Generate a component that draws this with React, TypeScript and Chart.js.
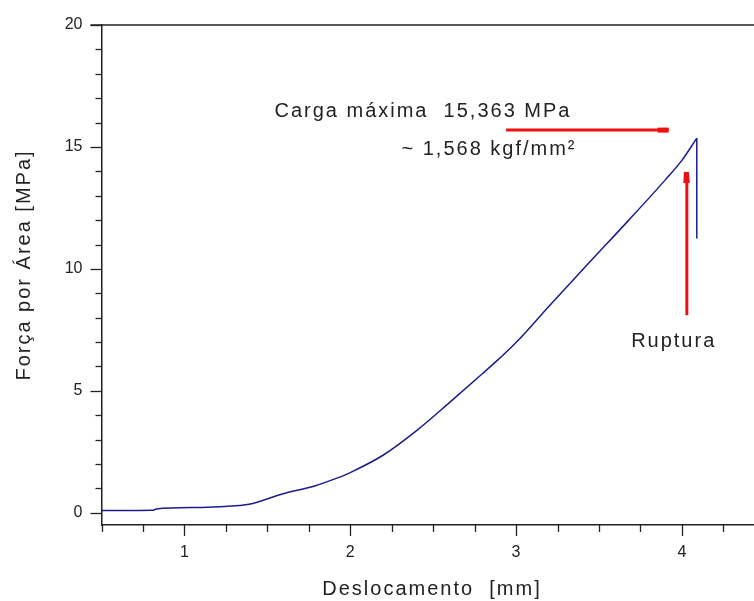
import { useEffect, useRef } from "react";
import { Chart, registerables } from "chart.js";

Chart.register(...registerables);

// Curve: Deslocamento [mm] vs Força por Área [MPa]
const displacement = [0.5, 0.81, 0.83, 1.1, 1.33, 1.39, 1.59, 1.79, 1.915, 2.0, 2.2, 2.4, 2.6, 2.8, 2.9, 3.0, 3.2, 3.44, 3.68, 3.9, 4.0, 4.09];
const stress = [0.09, 0.1, 0.16, 0.22, 0.3, 0.35, 0.77, 1.11, 1.41, 1.65, 2.37, 3.37, 4.53, 5.72, 6.33, 6.98, 8.48, 10.25, 12.0, 13.65, 14.45, 15.36];
// Rupture drop
const dropX = [4.09, 4.09];
const dropY = [15.36, 11.25];
// Red annotation markers
const maxMarkerX = [2.94, 3.92];
const maxMarkerY = [15.69, 15.69];
const ruptureMarkerX = [4.03, 4.03];
const ruptureMarkerY = [8.1, 13.97];

const xMajorTicks = [1, 2, 3, 4];
const yMajorTicks = [0, 5, 10, 15, 20];
const xMinorTicks = [0.5, 0.75, 1, 1.25, 1.5, 1.75, 2, 2.25, 2.5, 2.75, 3, 3.25, 3.5, 3.75, 4, 4.25];
const yMinorTicks = [0, 1, 2, 3, 4, 5, 6, 7, 8, 9, 10, 11, 12, 13, 14, 15, 16, 17, 18, 19, 20];

const textMaxLoad = "Carga máxima  15,363 MPa";
const textKgf = "~ 1,568 kgf/mm²";
const textRupture = "Ruptura";
const xTitle = "Deslocamento  [mm]";
const yTitle = "Força por Área [MPa]";

const AXIS = "#222222";
const BLUE = "#1c1c8c";
const RED = "#ee1010";
const FONT = "'Liberation Sans', Arial, sans-serif";

const pts = (xs: number[], ys: number[]) => xs.map((x, i) => ({ x, y: ys[i] }));

const decor = {
  id: "decor",
  afterDraw(chart: any) {
    const { ctx, chartArea, scales } = chart;
    const x = scales.x;
    const y = scales.y;
    ctx.save();
    ctx.strokeStyle = AXIS;
    ctx.lineWidth = 1.5;
    ctx.beginPath();
    ctx.moveTo(chartArea.left - 11, chartArea.top);
    ctx.lineTo(chartArea.right, chartArea.top);
    ctx.stroke();
    ctx.lineWidth = 1.3;
    for (const v of yMinorTicks) {
      const py = Math.round(y.getPixelForValue(v)) + 0.5;
      const len = v % 5 === 0 ? 11 : 6;
      ctx.beginPath();
      ctx.moveTo(chartArea.left - len, py);
      ctx.lineTo(chartArea.left, py);
      ctx.stroke();
    }
    for (const v of xMinorTicks) {
      const px = Math.round(x.getPixelForValue(v)) + 0.5;
      const len = Number.isInteger(v) ? 11 : 7;
      ctx.beginPath();
      ctx.moveTo(px, chartArea.bottom);
      ctx.lineTo(px, chartArea.bottom + len);
      ctx.stroke();
    }
    // arrow heads of red markers
    ctx.fillStyle = RED;
    const hx = x.getPixelForValue(maxMarkerX[1]);
    const hy = y.getPixelForValue(maxMarkerY[1]);
    ctx.fillRect(hx - 11, hy - 2.5, 11, 5);
    const vx = x.getPixelForValue(ruptureMarkerX[1]);
    const vy = y.getPixelForValue(ruptureMarkerY[1]);
    ctx.beginPath();
    ctx.moveTo(vx - 3.5, vy + 11);
    ctx.lineTo(vx - 3, vy);
    ctx.lineTo(vx + 2, vy);
    ctx.lineTo(vx + 3, vy + 11);
    ctx.closePath();
    ctx.fill();

    // texts
    ctx.fillStyle = AXIS;
    ctx.font = `20px ${FONT}`;
    (ctx as any).letterSpacing = "2px";
    ctx.textBaseline = "alphabetic";
    ctx.textAlign = "left";
    ctx.fillText(textMaxLoad, x.getPixelForValue(1.543), y.getPixelForValue(16.22));
    ctx.fillText(textKgf, x.getPixelForValue(2.309), y.getPixelForValue(14.67));
    ctx.fillText(textRupture, x.getPixelForValue(3.694), y.getPixelForValue(6.8));
    ctx.textAlign = "center";
    ctx.fillText(xTitle, 432, 595);
    ctx.save();
    ctx.translate(30, 265);
    ctx.rotate(-Math.PI / 2);
    ctx.fillText(yTitle, 0, 0);
    ctx.restore();
    ctx.restore();
  },
};

export default function App() {
  const ref = useRef<HTMLCanvasElement | null>(null);
  useEffect(() => {
    if (!ref.current) return;
    const chart = new Chart(ref.current, {
      type: "line",
      data: {
        datasets: [
          { data: pts(displacement, stress), borderColor: BLUE, borderWidth: 1.5, pointRadius: 0, cubicInterpolationMode: "monotone" },
          { data: pts(dropX, dropY), borderColor: BLUE, borderWidth: 1.5, pointRadius: 0 },
          { data: pts(maxMarkerX, maxMarkerY), borderColor: RED, borderWidth: 3, pointRadius: 0, borderCapStyle: "butt" },
          { data: pts(ruptureMarkerX, ruptureMarkerY), borderColor: RED, borderWidth: 3, pointRadius: 0, borderCapStyle: "butt" },
        ],
      },
      options: {
        animation: false,
        responsive: false,
        devicePixelRatio: 1,
        layout: { padding: { top: 25, left: 0, right: 0, bottom: 0 } },
        plugins: { legend: { display: false }, tooltip: { enabled: false } },
        scales: {
          x: {
            type: "linear",
            min: 0.5,
            max: 4.435,
            grid: { display: false, drawTicks: false },
            border: { display: true, color: AXIS, width: 1.5 },
            afterBuildTicks: (s: any) => { s.ticks = xMajorTicks.map((v) => ({ value: v })); },
            afterFit: (s: any) => { s.height = 76; s.paddingLeft = 0; s.paddingRight = 0; },
            ticks: { color: AXIS, font: { family: FONT, size: 16 }, padding: 18, maxRotation: 0, callback: (v: any) => String(v) },
          },
          y: {
            type: "linear",
            min: -0.5,
            max: 20,
            grid: { display: false, drawTicks: false },
            border: { display: true, color: AXIS, width: 1.5 },
            afterBuildTicks: (s: any) => { s.ticks = yMajorTicks.map((v) => ({ value: v })); },
            afterFit: (s: any) => { s.width = 101.5; s.paddingTop = 0; s.paddingBottom = 0; },
            ticks: { color: AXIS, font: { family: FONT, size: 16 }, padding: 19, callback: (v: any) => String(v) },
          },
        },
      },
      plugins: [decor],
    });
    return () => chart.destroy();
  }, []);
  return (
    <div style={{ position: "fixed", left: 0, top: 0, width: 754, height: 601, background: "#fff" }}>
      <canvas ref={ref} width={754} height={601} style={{ display: "block" }} />
    </div>
  );
}
